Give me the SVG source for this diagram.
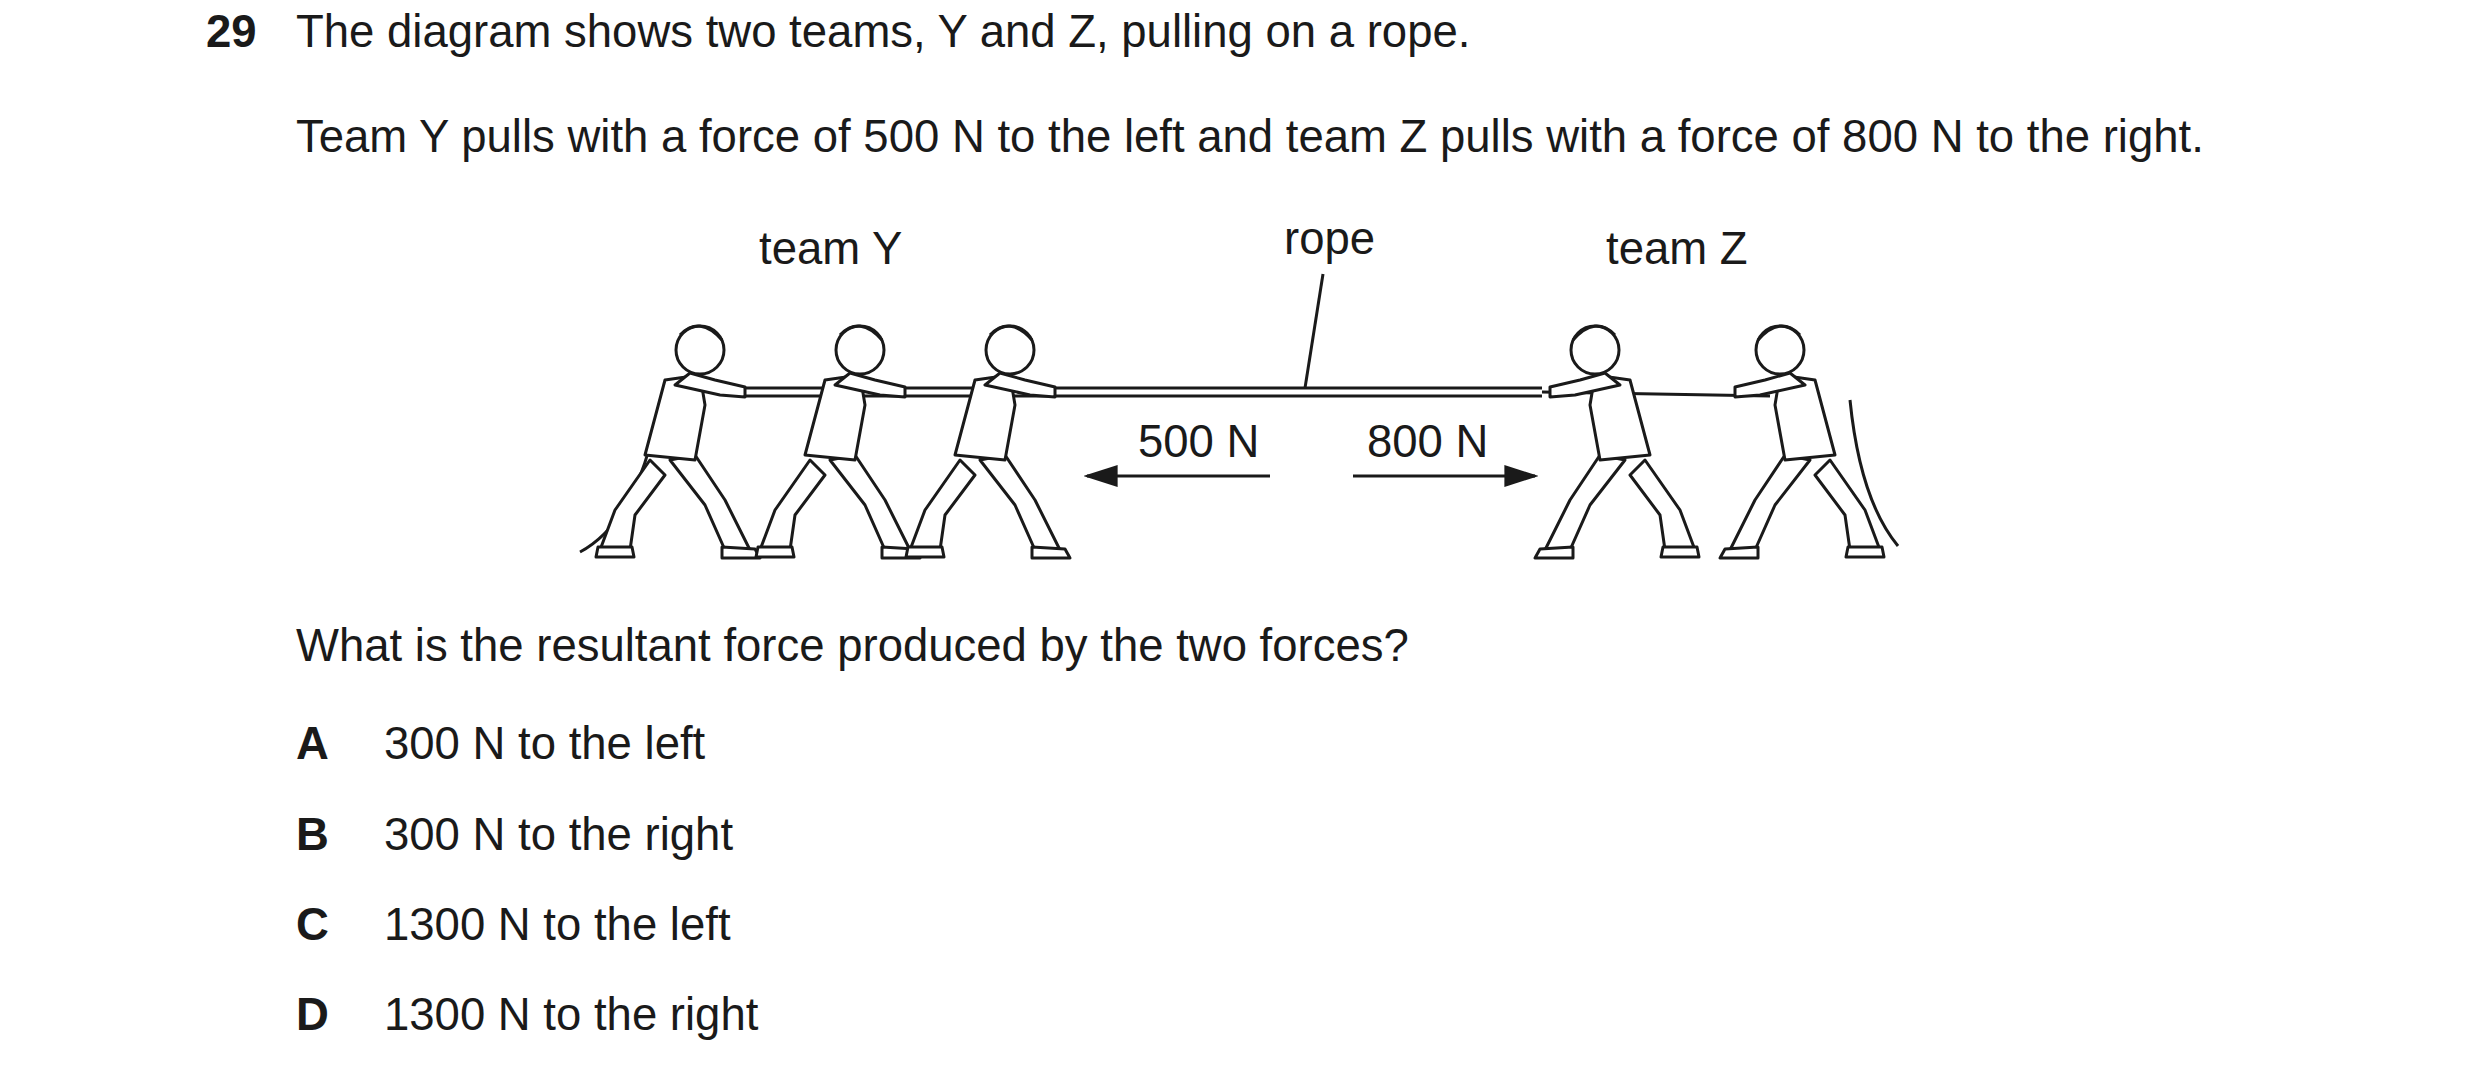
<svg xmlns="http://www.w3.org/2000/svg" width="2480" height="1081" viewBox="0 0 2480 1081">
<style>
.t{font-family:"Liberation Sans",Arial,sans-serif;font-size:45.5px;fill:#1a1a1a}
.b{font-weight:bold}
.fig{fill:#fff;stroke:#1a1a1a;stroke-width:3;stroke-linejoin:round;stroke-linecap:round}
.ln{fill:none;stroke:#1a1a1a;stroke-width:3}
</style>
<defs>
<marker id="ah" viewBox="0 0 10 10" refX="9" refY="5" markerWidth="34" markerHeight="22" markerUnits="userSpaceOnUse" orient="auto" preserveAspectRatio="none"><path d="M0,0L10,5L0,10z" fill="#1a1a1a"/></marker>
<g id="person">
<path class="fig" d="M-20,-95 L-55,-45 L-70,-5 L-40,-5 L-35,-40 L-5,-80 Z"/>
<path class="fig" d="M0,-95 L35,-50 L55,-5 L80,-5 L55,-55 L25,-100 Z"/>
<path class="fig" d="M-72,-8 L-38,-8 L-36,2 L-74,2 Z"/>
<path class="fig" d="M52,-8 L85,-6 L90,3 L52,3 Z"/>
<path class="fig" d="M-25,-100 L-5,-175 L30,-180 L35,-150 L25,-95 Z"/>
<path class="fig" d="M5,-170 L50,-160 L75,-158 L75,-168 L45,-175 L20,-182 Z"/>
<circle class="fig" cx="30" cy="-205" r="24"/>
<path class="ln" d="M10,-220 Q30,-240 52,-215"/>
</g>
</defs>
<text class="t b" x="206" y="47">29</text>
<text class="t" x="296" y="47">The diagram shows two teams, Y and Z, pulling on a rope.</text>
<text class="t" x="296" y="152">Team Y pulls with a force of 500 N to the left and team Z pulls with a force of 800 N to the right.</text>
<text class="t" x="759" y="264">team Y</text>
<text class="t" x="1284" y="254">rope</text>
<text class="t" x="1606" y="264">team Z</text>
<g id="rope">
<path class="ln" d="M740,388 L1542,388 M740,396 L1542,396" stroke-width="2.5"/>
<path class="ln" d="M1542,392 L1770,396" stroke-width="6"/>
<path class="ln" d="M660,400 Q640,520 580,552"/>
<path class="ln" d="M1850,400 Q1860,500 1898,546"/>
</g>
<g id="teamY">
<use href="#person" transform="translate(670,555)"/>
<use href="#person" transform="translate(830,555)"/>
<use href="#person" transform="translate(980,555)"/>
</g>
<g id="teamZ">
<use href="#person" transform="translate(1625,555) scale(-1,1)"/>
<use href="#person" transform="translate(1810,555) scale(-1,1)"/>
</g>
<g id="connectors">
<line class="ln" x1="1323" y1="274" x2="1305" y2="388"/>
<line class="ln" x1="1270" y1="476" x2="1087" y2="476" marker-end="url(#ah)"/>
<line class="ln" x1="1353" y1="476" x2="1535" y2="476" marker-end="url(#ah)"/>
</g>
<text class="t" x="1138" y="457">500 N</text>
<text class="t" x="1367" y="457">800 N</text>
<text class="t" x="296" y="661">What is the resultant force produced by the two forces?</text>
<text class="t b" x="296" y="759">A</text><text class="t" x="384" y="759">300 N to the left</text>
<text class="t b" x="296" y="850">B</text><text class="t" x="384" y="850">300 N to the right</text>
<text class="t b" x="296" y="940">C</text><text class="t" x="384" y="940">1300 N to the left</text>
<text class="t b" x="296" y="1030">D</text><text class="t" x="384" y="1030">1300 N to the right</text>
</svg>
